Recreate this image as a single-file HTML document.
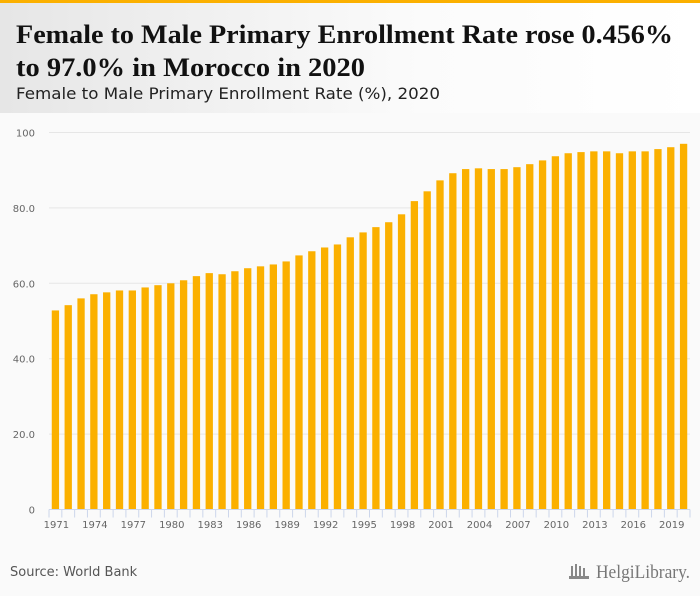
<!DOCTYPE html>
<html><head><meta charset="utf-8"><style>
html,body{margin:0;padding:0;background:#fafafa;}
svg{display:block;}
</style></head><body>
<svg id="chart" width="700" height="596" viewBox="0 0 700 596" xmlns="http://www.w3.org/2000/svg">
<defs><linearGradient id="hg" x1="0" x2="1" y1="0" y2="0"><stop offset="0" stop-color="#e6e6e6"/><stop offset="0.6" stop-color="#fbfbfb"/><stop offset="1" stop-color="#ffffff"/></linearGradient></defs>
<rect x="0" y="0" width="700" height="596" fill="#fafafa"/>
<rect x="0" y="0" width="700" height="113" fill="url(#hg)"/>
<rect x="0" y="0" width="700" height="3" fill="#fbb000"/>
<text x="16" y="43" font-family="Liberation Serif, serif" font-weight="bold" font-size="26" fill="#111" textLength="657" lengthAdjust="spacingAndGlyphs">Female to Male Primary Enrollment Rate rose 0.456%</text>
<text x="16" y="76" font-family="Liberation Serif, serif" font-weight="bold" font-size="26" fill="#111" textLength="349" lengthAdjust="spacingAndGlyphs">to 97.0% in Morocco in 2020</text>
<text x="16" y="99" font-family="DejaVu Sans, sans-serif" font-size="16" fill="#222" textLength="424" lengthAdjust="spacingAndGlyphs">Female to Male Primary Enrollment Rate (%), 2020</text>
<g id="grid"></g>
<g id="yaxis"></g>
<g id="bars"></g>
<g id="xaxis"></g>
<text x="10" y="576" font-family="DejaVu Sans, sans-serif" font-size="13" fill="#555">Source: World Bank</text>
<g>
<g fill="#888"><rect x="571" y="566" width="2" height="10"/><rect x="575" y="564" width="2" height="12"/><rect x="579" y="566" width="2" height="10"/><rect x="583" y="568" width="2" height="8"/><rect x="569" y="576" width="20" height="3"/></g>
<text x="596" y="578" font-family="Liberation Serif, serif" font-size="19" fill="#777" textLength="94" lengthAdjust="spacingAndGlyphs">HelgiLibrary.</text>
</g>
</svg>
<script>
const years = [1971,1972,1973,1974,1975,1976,1977,1978,1979,1980,1981,1982,1983,1984,1985,1986,1987,1988,1989,1990,1991,1992,1993,1994,1995,1996,1997,1998,1999,2000,2001,2002,2003,2004,2005,2006,2007,2008,2009,2010,2011,2012,2013,2014,2015,2016,2017,2018,2019,2020];
const values = [52.8,54.2,56.0,57.1,57.6,58.1,58.1,58.9,59.5,60.0,60.8,61.9,62.7,62.4,63.2,64.0,64.5,65.0,65.8,67.4,68.5,69.5,70.3,72.2,73.5,74.9,76.2,78.3,81.8,84.4,87.3,89.2,90.3,90.5,90.3,90.3,90.8,91.6,92.6,93.7,94.5,94.8,95.0,95.0,94.5,95.0,95.0,95.6,96.1,97.0];
const yTicks = [0,20,40,60,80,100];
const yTickLabels = ["0","20.0","40.0","60.0","80.0","100"];
const xLabelYears = [1971,1974,1977,1980,1983,1986,1989,1992,1995,1998,2001,2004,2007,2010,2013,2016,2019];

const NS = "http://www.w3.org/2000/svg";
const X0 = 49, X1 = 690, Y0 = 509.5, YTOP = 132.5;
const slot = (X1 - X0) / years.length;
function xScale(i){ return X0 + i * slot; }
function yScale(v){ return Y0 - (v / 100) * (Y0 - YTOP); }
function mk(tag, attrs, parent){ const e = document.createElementNS(NS, tag); for (const k in attrs) e.setAttribute(k, attrs[k]); parent.appendChild(e); return e; }

const grid = document.getElementById('grid');
const yaxis = document.getElementById('yaxis');
yTicks.forEach((t, i) => {
  const y = yScale(t);
  if (t > 0) {
    const l = mk('line', {x1: X0, x2: X1, y1: y, y2: y, stroke: '#e6e6e6', 'stroke-width': 1}, grid);
    
    
  }
  const tx = mk('text', {x: 35, y: y + 4, 'text-anchor': 'end', 'font-family': 'DejaVu Sans, sans-serif', 'font-size': 10, fill: '#666'}, yaxis);
  tx.textContent = yTickLabels[i];
  
  
});

const bars = document.getElementById('bars');
const bw = slot * 0.57;
values.forEach((v, i) => {
  const x = xScale(i) + (slot - bw) / 2;
  const y = yScale(v);
  const r = mk('rect', {x: x, y: y, width: bw, height: Y0 - y, fill: '#fbb000'}, bars);
  
  
});

const xaxis = document.getElementById('xaxis');
const al = mk('line', {x1: X0, x2: X1, y1: Y0, y2: Y0, stroke: '#ccd6eb', 'stroke-width': 1}, xaxis);


for (let i = 0; i <= years.length; i++) {
  const x = xScale(i);
  const tk = mk('line', {x1: x, x2: x, y1: Y0, y2: Y0 + 8, stroke: '#ccd6eb', 'stroke-width': 1}, xaxis);
  
  
}
xLabelYears.forEach(yr => {
  const i = years.indexOf(yr);
  const tx = mk('text', {x: xScale(i) + slot / 2 + 1, y: 528, 'text-anchor': 'middle', 'font-family': 'DejaVu Sans, sans-serif', 'font-size': 10, fill: '#666'}, xaxis);
  tx.textContent = String(yr);
  
  
});
</script>
</body></html>
